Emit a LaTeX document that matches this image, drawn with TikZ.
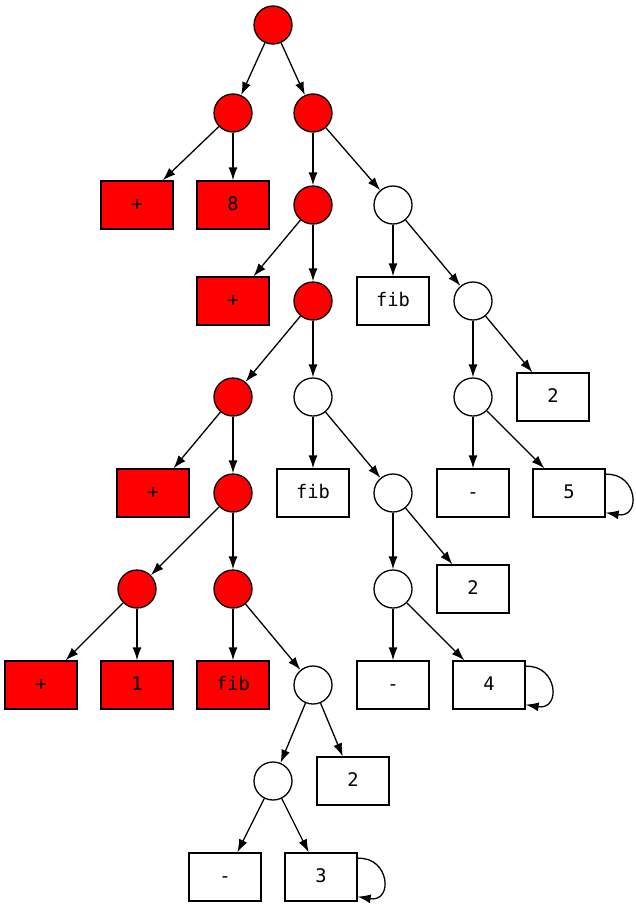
\documentclass[tikz,border=0pt]{standalone}
\usepackage{fontspec}
\setmonofont{DejaVu Sans Mono}
\usetikzlibrary{arrows.meta}
\tikzset{
  every node/.style={font=\ttfamily\fontsize{18.7}{20}\selectfont, draw=black, line width=1.3pt, inner sep=0pt, text height=11.2pt, text depth=0pt},
  rc/.style={circle, minimum size=38pt, fill=red},
  wc/.style={circle, minimum size=38pt, fill=white},
  rb/.style={rectangle, minimum width=72pt, minimum height=48pt, fill=red},
  wb/.style={rectangle, minimum width=72pt, minimum height=48pt, fill=white},
  edge/.style={draw=black, line width=1.3pt, -{Latex[length=13pt,width=9pt]}},
}
\begin{document}
\begin{tikzpicture}[x=1pt,y=-1pt]
\useasboundingbox (0,0) rectangle (635,907);
% row 0
\node[rc] (root) at (273,25) {};
% row 1
\node[rc] (c1) at (233,113) {};
\node[rc] (c2) at (313,113) {};
% row 2
\node[rb] (p1) at (137,205) {+};
\node[rb] (b8) at (233,205) {8};
\node[rc] (c3) at (313,205) {};
\node[wc] (c4) at (393,205) {};
% row 3
\node[rb] (p2) at (233,301) {+};
\node[rc] (c5) at (313,301) {};
\node[wb] (f1) at (393,301) {fib};
\node[wc] (c6) at (473,301) {};
% row 4
\node[rc] (c7) at (233,397) {};
\node[wc] (c8) at (313,397) {};
\node[wc] (c9) at (473,397) {};
\node[wb] (t1) at (553,397) {2};
% row 5
\node[rb] (p3) at (153,493) {+};
\node[rc] (c10) at (233,493) {};
\node[wb] (f2) at (313,493) {fib};
\node[wc] (c11) at (393,493) {};
\node[wb] (m1) at (473,493) {-};
\node[wb] (b5) at (569,493) {5};
% row 6
\node[rc] (c12) at (137,589) {};
\node[rc] (c13) at (233,589) {};
\node[wc] (c14) at (393,589) {};
\node[wb] (t2) at (473,589) {2};
% row 7
\node[rb] (p4) at (41,685) {+};
\node[rb] (b1) at (137,685) {1};
\node[rb] (f3) at (233,685) {fib};
\node[wc] (c15) at (313,685) {};
\node[wb] (m2) at (393,685) {-};
\node[wb] (b4) at (489,685) {4};
% row 8
\node[wc] (c16) at (273,781) {};
\node[wb] (t3) at (353,781) {2};
% row 9
\node[wb] (m3) at (225,877) {-};
\node[wb] (b3) at (321,877) {3};
% edges
\foreach \a/\b in {root/c1, root/c2, c1/p1, c1/b8, c2/c3, c2/c4,
  c3/p2, c3/c5, c4/f1, c4/c6, c5/c7, c5/c8, c6/c9, c6/t1,
  c7/p3, c7/c10, c8/f2, c8/c11, c9/m1, c9/b5,
  c10/c12, c10/c13, c11/c14, c11/t2,
  c12/p4, c12/b1, c13/f3, c13/c15, c14/m2, c14/b4,
  c15/c16, c15/t3, c16/m3, c16/b3}
  \draw[edge] (\a) -- (\b);
% self loops
\foreach \n in {b5, b4, b3}
  \draw[edge] ([yshift=-6pt]\n.north east) .. controls +(32,-2) and +(36,6) .. ([yshift=5pt]\n.south east);
\end{tikzpicture}
\end{document}
